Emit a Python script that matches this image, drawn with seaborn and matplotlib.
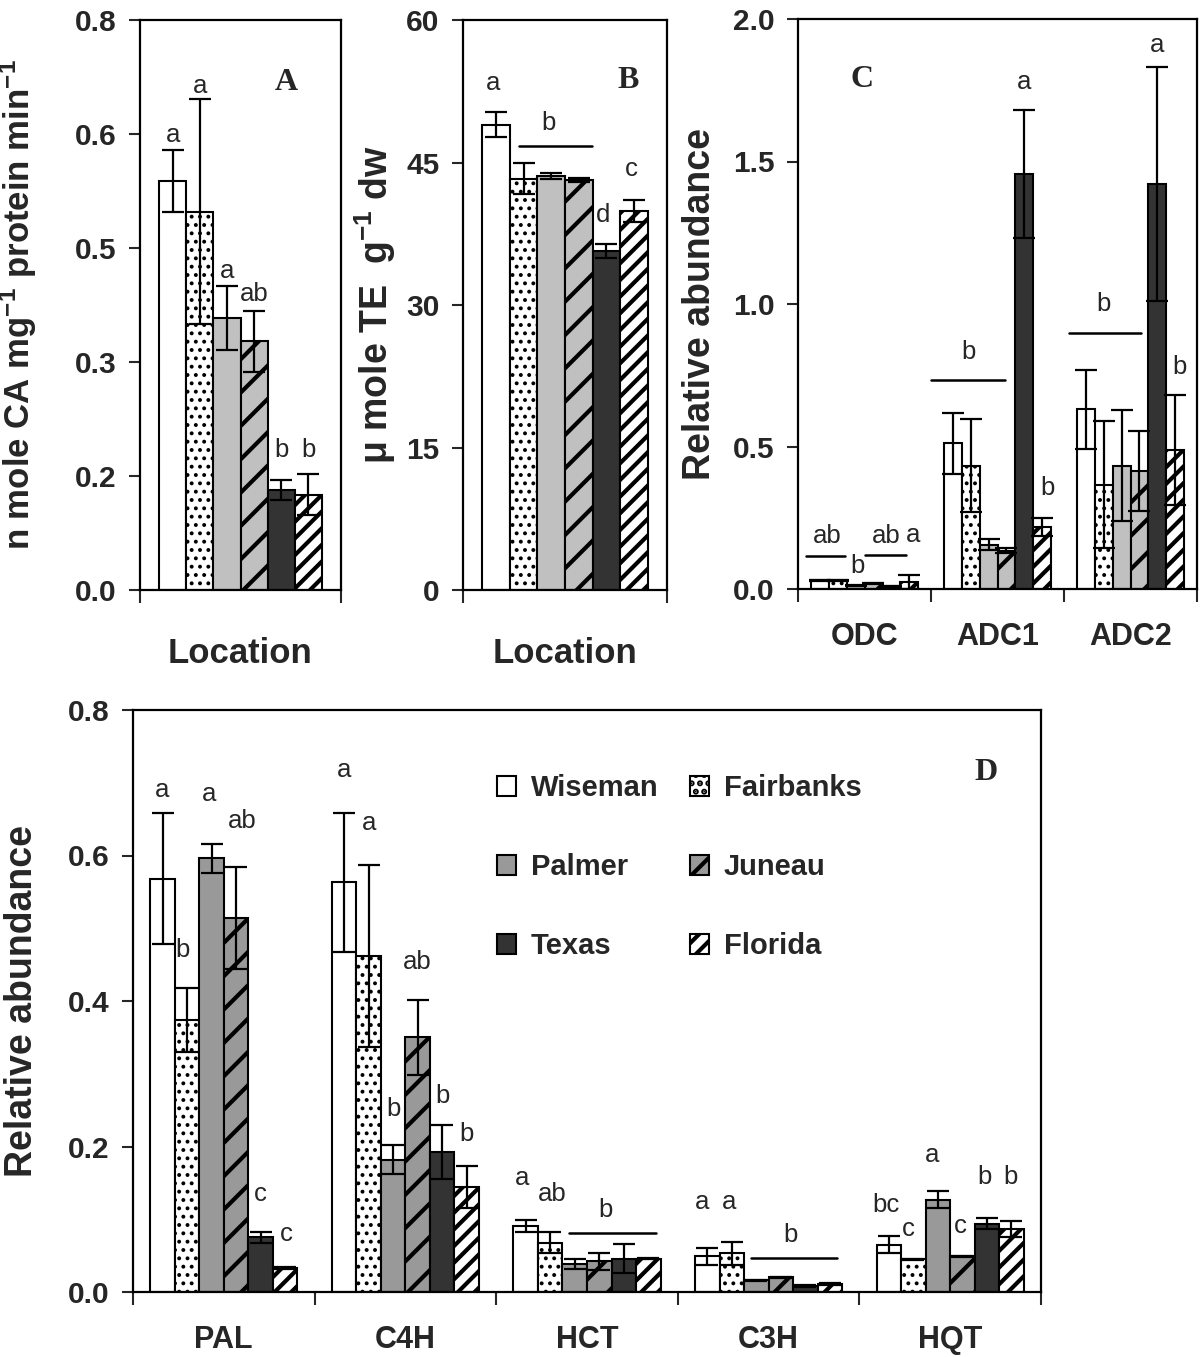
import numpy as np
import pandas as pd
import matplotlib
matplotlib.use('Agg')
import matplotlib.pyplot as plt
import matplotlib.patches as mpatches
import seaborn as sns

# ---- data ----
locations = ['Wiseman', 'Fairbanks', 'Palmer', 'Juneau', 'Texas', 'Florida']

# panel A: enzyme activity (one group, "Location")
a_mean = [0.574, 0.531, 0.382, 0.349, 0.141, 0.134]
a_err = [0.044, 0.158, 0.045, 0.043, 0.014, 0.029]

# panel B: antioxidant capacity
b_mean = [49.0, 43.3, 43.6, 43.2, 35.7, 39.9]
b_err = [1.3, 1.6, 0.3, 0.2, 0.7, 1.2]

# panel C: relative abundance of ODC / ADC transcripts
c_genes = ['ODC', 'ADC1', 'ADC2']
odc_mean = [0.030, 0.030, 0.012, 0.020, 0.009, 0.025]
odc_err = [0.003, 0.003, 0.002, 0.002, 0.002, 0.025]
adc1_mean = [0.511, 0.433, 0.156, 0.135, 1.456, 0.218]
adc1_err = [0.108, 0.163, 0.018, 0.010, 0.225, 0.031]
adc2_mean = [0.630, 0.366, 0.433, 0.415, 1.422, 0.489]
adc2_err = [0.140, 0.222, 0.196, 0.140, 0.410, 0.193]

# panel D: phenylpropanoid genes
d_genes = ['PAL', 'C4H', 'HCT', 'C3H', 'HQT']
pal_mean = [0.568, 0.374, 0.596, 0.514, 0.075, 0.033]
pal_err = [0.090, 0.044, 0.020, 0.070, 0.008, 0.002]
c4h_mean = [0.563, 0.462, 0.182, 0.350, 0.193, 0.144]
c4h_err = [0.095, 0.125, 0.020, 0.052, 0.037, 0.029]
hct_mean = [0.091, 0.068, 0.039, 0.042, 0.046, 0.046]
hct_err = [0.008, 0.015, 0.007, 0.012, 0.020, 0.001]
c3h_mean = [0.049, 0.053, 0.016, 0.020, 0.008, 0.011]
c3h_err = [0.012, 0.016, 0.001, 0.001, 0.001, 0.001]
hqt_mean = [0.065, 0.045, 0.127, 0.049, 0.094, 0.087]
hqt_err = [0.012, 0.001, 0.012, 0.001, 0.008, 0.011]

# significance letters: (group, bar slot, letter, height)
a_letters = [(0, 0, 'a', 0.638), (0, 1, 'a', 0.708), (0, 2, 'a', 0.448),
             (0, 3, 'ab', 0.416), (0, 4, 'b', 0.197), (0, 5, 'b', 0.197)]
b_letters = [(0, -0.1, 'a', 53.4), (0, 1.9, 'b', 49.2), (0, 3.9, 'd', 39.5), (0, 4.9, 'c', 44.3)]
c_letters = [(0, 0.45, 'ab', 0.186), (0, 2.1, 'b', 0.08), (0, 3.7, 'ab', 0.186), (0, 5.2, 'a', 0.19),
             (1, 0.87, 'b', 0.83), (1, 4.0, 'a', 1.78), (1, 5.3, 'b', 0.356),
             (2, 1.0, 'b', 1.0), (2, 4.0, 'a', 1.91), (2, 5.25, 'b', 0.78)]
d_letters = [(0, 0, 'a', 0.69), (0, 0.83, 'b', 0.47), (0, 1.9, 'a', 0.685), (0, 3.25, 'ab', 0.648),
             (0, 4.0, 'c', 0.135), (0, 5.05, 'c', 0.08),
             (1, 0, 'a', 0.717), (1, 1.0, 'a', 0.644), (1, 2.0, 'b', 0.252), (1, 3.0, 'ab', 0.453),
             (1, 4.0, 'b', 0.269), (1, 5.0, 'b', 0.217),
             (2, -0.13, 'a', 0.157), (2, 1.08, 'ab', 0.135), (2, 3.25, 'b', 0.113),
             (3, -0.2, 'a', 0.124), (3, 0.9, 'a', 0.124), (3, 3.4, 'b', 0.079),
             (4, -0.14, 'bc', 0.12), (4, 0.78, 'c', 0.087), (4, 1.75, 'a', 0.189),
             (4, 2.9, 'c', 0.091), (4, 3.9, 'b', 0.158), (4, 4.97, 'b', 0.158)]
# grouping lines: (group, from slot, to slot, height)
b_lines = [(0, 0.82, 3.47, 46.7)]
c_lines = [(0, -0.76, 1.4, 0.116), (0, 2.5, 4.8, 0.119), (1, -1.2, 2.94, 0.733), (2, -0.94, 3.07, 0.9)]
d_lines = [(2, 1.75, 5.3, 0.081), (3, 1.8, 5.3, 0.047)]

# ---- style ----
sns.set_style('ticks')
plt.rcParams['font.family'] = ['Liberation Sans', 'DejaVu Sans']
plt.rcParams['mathtext.fontset'] = 'custom'
plt.rcParams['mathtext.rm'] = 'Liberation Sans:bold'
plt.rcParams['mathtext.bf'] = 'Liberation Sans:bold'
plt.rcParams['mathtext.default'] = 'bf'
plt.rcParams['hatch.linewidth'] = 3.0

BAR_W = 0.81
light = {'Wiseman': 'white', 'Fairbanks': 'white', 'Palmer': '#c0c0c0',
         'Juneau': '#c0c0c0', 'Texas': '#333333', 'Florida': 'white'}
dark = dict(light, Palmer='#999999', Juneau='#999999')
hatches = {'Wiseman': '', 'Fairbanks': '..', 'Palmer': '', 'Juneau': '/',
           'Texas': '', 'Florida': '//'}
hatch_lw = {'Fairbanks': 1.6}


def style_patch(p, loc):
    p.set_hatch(hatches[loc])
    # dots look better with a thinner hatch stroke (if this matplotlib supports it)
    if loc in hatch_lw and hasattr(p, 'set_hatch_linewidth'):
        p.set_hatch_linewidth(hatch_lw[loc])


def slot_x(group, slot):
    return group + (slot - 2.5) * BAR_W / len(locations)


def draw_panel(ax, groups, means, errs, colors, yticks, yticklabels, label_size, label_pad):
    rows = []
    for gi, g in enumerate(groups):
        for li, loc in enumerate(locations):
            rows.append({'group': g, 'loc': loc, 'val': means[gi][li]})
    df = pd.DataFrame(rows)
    sns.barplot(data=df, x='group', y='val', hue='loc', order=groups, hue_order=locations,
                palette=colors, width=BAR_W, gap=0, errorbar=None, legend=False,
                saturation=1, edgecolor='black', linewidth=1.5, ax=ax)
    for li, (cont, loc) in enumerate(zip(ax.containers, locations)):
        for bar in cont:
            style_patch(bar, loc)
        xs = [b.get_x() + b.get_width() / 2 for b in cont]
        hs = [b.get_height() for b in cont]
        ax.errorbar(xs, hs, yerr=[errs[gi][li] for gi in range(len(groups))], fmt='none',
                    ecolor='black', elinewidth=1.6, capsize=8, capthick=1.6, zorder=5)

    ax.set_xlim(-0.5, len(groups) - 0.5)
    ax.set_ylim(yticks[0], yticks[-1])
    ax.set_xticks(np.arange(len(groups) + 1) - 0.5)
    ax.set_xticklabels([])
    ax.set_xticks(np.arange(len(groups)), minor=True)
    ax.set_xticklabels(groups, minor=True, fontsize=label_size, fontweight='bold')
    ax.tick_params(axis='x', which='minor', length=0, pad=label_pad)
    ax.tick_params(axis='x', which='major', length=9, width=1.5, direction='out')
    ax.set_yticks(yticks)
    ax.set_yticklabels(yticklabels, fontsize=21.5, fontweight='bold')
    ax.tick_params(axis='y', length=8, width=1.5, direction='out', pad=9)
    ax.set_xlabel('')
    for sp in ax.spines.values():
        sp.set_visible(True)
        sp.set_linewidth(1.6)
        sp.set_color('black')


def annotate(ax, letters, lines):
    for g, slot, txt, y in letters:
        ax.text(slot_x(g, slot), y, txt, ha='center', va='center', fontsize=18.5, zorder=6)
    for g, s0, s1, y in lines:
        ax.plot([slot_x(g, s0), slot_x(g, s1)], [y, y], color='black', lw=1.8, zorder=6)


fig = plt.figure(figsize=(12, 13.57), dpi=100)
W, H = 1200, 1357


def add_axes(left, right, top, bottom):
    return fig.add_axes([left / W, (H - bottom) / H, (right - left) / W, (bottom - top) / H])


ax_a = add_axes(140, 341, 20, 590)
ax_b = add_axes(463, 667, 20, 590)
ax_c = add_axes(798, 1197, 19, 589)
ax_d = add_axes(133, 1041, 710, 1292)

# A
draw_panel(ax_a, ['Location'], [a_mean], [a_err], light,
           [0, 0.16, 0.32, 0.48, 0.64, 0.8], ['0.0', '0.2', '0.3', '0.5', '0.6', '0.8'], 25, 34)
annotate(ax_a, a_letters, [])
ax_a.set_ylabel('n mole CA mg$^{-1}$ protein min$^{-1}$', fontsize=25, fontweight='bold')
ax_a.yaxis.set_label_coords(-0.5, 0.5)
ax_a.text(0.73, 0.89, 'A', transform=ax_a.transAxes, ha='center', va='center',
          fontsize=23, fontweight='bold', family='Liberation Serif')

# B
draw_panel(ax_b, ['Location'], [b_mean], [b_err], light,
           [0, 15, 30, 45, 60], ['0', '15', '30', '45', '60'], 25, 34)
annotate(ax_b, b_letters, b_lines)
ax_b.set_ylabel('μ mole TE  g$^{-1}$ dw', fontsize=27, fontweight='bold')
ax_b.yaxis.set_label_coords(-0.32, 0.5)
ax_b.text(0.81, 0.893, 'B', transform=ax_b.transAxes, ha='center', va='center',
          fontsize=23, fontweight='bold', family='Liberation Serif')

# C
draw_panel(ax_c, c_genes, [odc_mean, adc1_mean, adc2_mean], [odc_err, adc1_err, adc2_err], light,
           [0, 0.5, 1.0, 1.5, 2.0], ['0.0', '0.5', '1.0', '1.5', '2.0'], 22, 24)
annotate(ax_c, c_letters, c_lines)
ax_c.set_ylabel('Relative abundance', fontsize=27, fontweight='bold')
ax_c.yaxis.set_label_coords(-0.2, 0.5)
ax_c.text(0.16, 0.893, 'C', transform=ax_c.transAxes, ha='center', va='center',
          fontsize=23, fontweight='bold', family='Liberation Serif')

# D
draw_panel(ax_d, d_genes, [pal_mean, c4h_mean, hct_mean, c3h_mean, hqt_mean],
           [pal_err, c4h_err, hct_err, c3h_err, hqt_err], dark,
           [0, 0.2, 0.4, 0.6, 0.8], ['0.0', '0.2', '0.4', '0.6', '0.8'], 22, 24)
annotate(ax_d, d_letters, d_lines)
ax_d.set_ylabel('Relative abundance', fontsize=27, fontweight='bold')
ax_d.yaxis.set_label_coords(-0.102, 0.5)
ax_d.text(0.94, 0.892, 'D', transform=ax_d.transAxes, ha='center', va='center',
          fontsize=23, fontweight='bold', family='Liberation Serif')

# legend (2 columns, filled row-wise like the original)
leg_order = ['Wiseman', 'Palmer', 'Texas', 'Fairbanks', 'Juneau', 'Florida']
handles = []
for l in leg_order:
    h = mpatches.Patch(facecolor=dark[l], edgecolor='black', linewidth=1.5, label=l)
    style_patch(h, l)
    handles.append(h)
ax_d.legend(handles=handles, ncol=2, loc='upper left', bbox_to_anchor=(0.385, 0.915),
            frameon=False, borderpad=0, handlelength=0.65, handleheight=0.65,
            handletextpad=0.5, labelspacing=1.75, columnspacing=1.1,
            prop={'size': 21, 'weight': 'bold'})

fig.savefig('out.png', dpi=100)
plt.close(fig)
